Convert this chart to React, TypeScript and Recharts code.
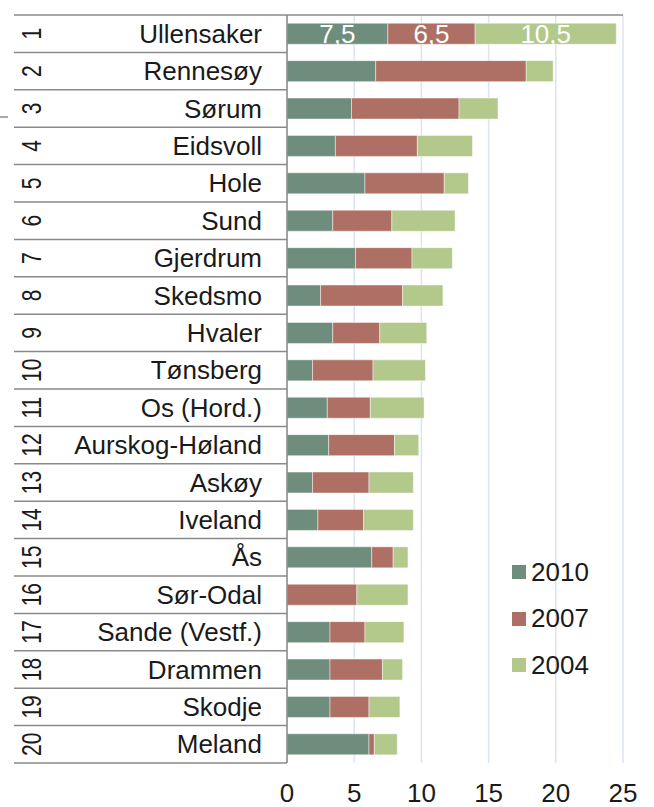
import React from 'react';
import {
  BarChart,
  Bar,
  XAxis,
  YAxis,
  CartesianGrid,
  LabelList
} from 'recharts';

const ranks = [1, 2, 3, 4, 5, 6, 7, 8, 9, 10, 11, 12, 13, 14, 15, 16, 17, 18, 19, 20];
const kommuner = [
  'Ullensaker', 'Rennesøy', 'Sørum', 'Eidsvoll', 'Hole', 'Sund', 'Gjerdrum',
  'Skedsmo', 'Hvaler', 'Tønsberg', 'Os (Hord.)', 'Aurskog-Høland', 'Askøy',
  'Iveland', 'Ås', 'Sør-Odal', 'Sande (Vestf.)', 'Drammen', 'Skodje', 'Meland'
];
const v2010 = [7.5, 6.6, 4.8, 3.6, 5.8, 3.4, 5.1, 2.5, 3.4, 1.9, 3.0, 3.1, 1.9, 2.3, 6.3, 0, 3.2, 3.2, 3.2, 6.1];
const v2007 = [6.5, 11.2, 8.0, 6.1, 5.9, 4.4, 4.2, 6.1, 3.5, 4.5, 3.2, 4.9, 4.2, 3.4, 1.6, 5.2, 2.6, 3.9, 2.9, 0.4];
const v2004 = [10.5, 2.0, 2.9, 4.1, 1.8, 4.7, 3.0, 3.0, 3.5, 3.9, 4.0, 1.8, 3.3, 3.7, 1.1, 3.8, 2.9, 1.5, 2.3, 1.7];
const xTicks = [0, 5, 10, 15, 20, 25];

const series = [
  { key: 'y2010', name: '2010', color: '#6f8d7c' },
  { key: 'y2007', name: '2007', color: '#ae7064' },
  { key: 'y2004', name: '2004', color: '#b3c88b' }
];

const data = kommuner.map((name, i) => ({
  name,
  rank: ranks[i],
  y2010: v2010[i],
  y2007: v2007[i],
  y2004: v2004[i]
}));

const FONT = '"Liberation Sans", Arial, sans-serif';
const BAND = (763 - 15) / 20;

function CategoryTick(props: any) {
  const { y, payload, index } = props;
  const row = data[index] || data.find((d) => d.name === payload.value);
  const top = y - BAND / 2;
  return (
    <g>
      <line x1={14} x2={287} y1={top} y2={top} stroke="#8a8a8a" strokeWidth={1.5} />
      {index === data.length - 1 && (
        <line x1={14} x2={287} y1={top + BAND} y2={top + BAND} stroke="#8a8a8a" strokeWidth={1.5} />
      )}
      <text
        transform={`translate(31,${y}) rotate(-90) scale(0.75,1)`}
        textAnchor="middle"
        dominantBaseline="central"
        fontSize={28}
        fontFamily={FONT}
        fill="#1a1a1a"
      >
        {row ? row.rank : ''}
      </text>
      <text
        x={262}
        y={y}
        textAnchor="end"
        dominantBaseline="central"
        fontSize={26}
        fontFamily={FONT}
        fill="#1a1a1a"
      >
        {payload.value}
      </text>
    </g>
  );
}

function FirstRowLabel(props: any) {
  const { x, y, width, height, value, index } = props;
  if (index !== 0) return null;
  return (
    <text
      x={x + width / 2}
      y={y + height / 2}
      textAnchor="middle"
      dominantBaseline="central"
      fontSize={26}
      fontFamily={FONT}
      fill="#ffffff"
    >
      {String(value).replace('.', ',')}
    </text>
  );
}

function EmptyTick() {
  return <g />;
}

function LegendBox() {
  return (
    <div style={{ position: 'absolute', left: 512, top: 549, fontFamily: FONT, fontSize: 26, color: '#1a1a1a' }}>
      {series.map((s) => (
        <div key={s.key} style={{ display: 'flex', alignItems: 'center', height: 46.5 }}>
          <span style={{ display: 'inline-block', width: 14, height: 14, background: s.color, marginRight: 5 }} />
          <span>{s.name}</span>
        </div>
      ))}
    </div>
  );
}

export default function App() {
  return (
    <div style={{ position: 'absolute', left: 0, top: 0, width: 654, height: 807, background: '#fff' }}>
      <BarChart
        width={654}
        height={807}
        data={data}
        layout="vertical"
        margin={{ top: 14, right: 31, left: 0, bottom: 0 }}
        barCategoryGap="22%"
      >
        <CartesianGrid horizontal={false} stroke="#dbe5f1" strokeWidth={1.5} />
        <XAxis
          type="number"
          domain={[0, 25]}
          ticks={xTicks}
          height={44}
          axisLine={false}
          tickLine={false}
          tickSize={0}
          tickMargin={21}
          tick={{ fontSize: 26, fontFamily: FONT, fill: '#1a1a1a' }}
        />
        <XAxis
          xAxisId="top"
          orientation="top"
          type="number"
          domain={[0, 25]}
          ticks={xTicks}
          height={1}
          tick={<EmptyTick />}
          tickLine={{ stroke: '#8a8a8a', strokeWidth: 1.5 }}
          tickSize={8}
          stroke="#8a8a8a"
          strokeWidth={1.5}
        />
        <YAxis
          type="category"
          dataKey="name"
          width={287}
          interval={0}
          tickLine={false}
          stroke="#8a8a8a"
          strokeWidth={1.5}
          tick={<CategoryTick />}
        />
        {series.map((s) => (
          <Bar
            key={s.key}
            dataKey={s.key}
            name={s.name}
            stackId="a"
            fill={s.color}
            stroke="rgba(255,255,255,0.45)"
            strokeWidth={1}
            isAnimationActive={false}
          >
            <LabelList dataKey={s.key} content={<FirstRowLabel />} />
          </Bar>
        ))}
      </BarChart>
      <div style={{ position: 'absolute', left: 0, top: 116, width: 8, height: 1.5, background: '#aaaaaa' }} />
      <LegendBox />
    </div>
  );
}
